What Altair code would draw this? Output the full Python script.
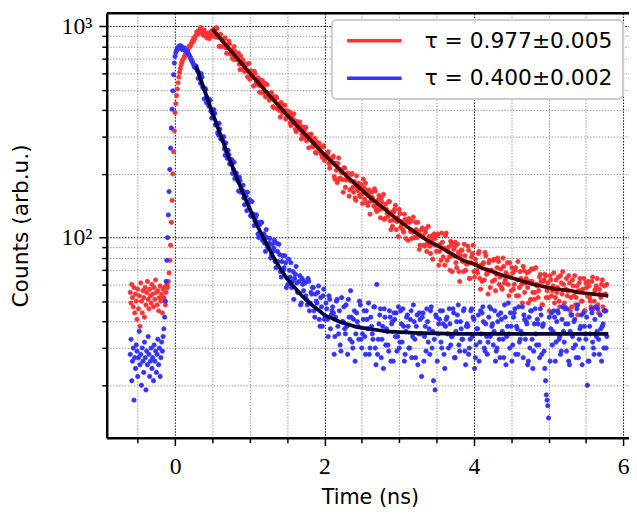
import altair as alt
import pandas as pd

# ---------------- data ----------------
time_ns = [
    -0.60, -0.59, -0.58, -0.57, -0.56, -0.55, -0.54, -0.53, -0.52, -0.51,
    -0.50, -0.49, -0.48, -0.47, -0.46, -0.45, -0.44, -0.43, -0.42, -0.41,
    -0.40, -0.39, -0.38, -0.37, -0.36, -0.35, -0.34, -0.33, -0.32, -0.31,
    -0.30, -0.29, -0.28, -0.27, -0.26, -0.25, -0.24, -0.23, -0.22, -0.21,
    -0.20, -0.19, -0.18, -0.17, -0.16, -0.15, -0.14, -0.13, -0.12, -0.11,
    -0.10, -0.09, -0.08, -0.07, -0.06, -0.05, -0.04, -0.03, -0.02, -0.01,
    0.00, 0.01, 0.02, 0.03, 0.04, 0.05, 0.06, 0.07, 0.08, 0.09, 0.10,
    0.12, 0.14, 0.16, 0.18, 0.20, 0.22, 0.24, 0.26, 0.28, 0.30,
    0.32, 0.34, 0.36, 0.38, 0.40, 0.42, 0.44, 0.46, 0.48, 0.50,
    0.52, 0.54, 0.56, 0.58, 0.60, 0.62, 0.64, 0.66, 0.68, 0.70,
    0.72, 0.74, 0.76, 0.78, 0.80, 0.82, 0.84, 0.86, 0.88, 0.90,
    0.92, 0.94, 0.96, 0.98, 1.00, 1.02, 1.04, 1.06, 1.08, 1.10,
    1.12, 1.14, 1.16, 1.18, 1.20, 1.22, 1.24, 1.26, 1.28, 1.30,
    1.32, 1.34, 1.36, 1.38, 1.40, 1.42, 1.44, 1.46, 1.48, 1.50,
    1.52, 1.54, 1.56, 1.58, 1.60, 1.62, 1.64, 1.66, 1.68, 1.70,
    1.72, 1.74, 1.76, 1.78, 1.80, 1.82, 1.84, 1.86, 1.88, 1.90,
    1.92, 1.94, 1.96, 1.98, 2.00, 2.02, 2.04, 2.06, 2.08, 2.10,
    2.12, 2.14, 2.16, 2.18, 2.20, 2.22, 2.24, 2.26, 2.28, 2.30,
    2.32, 2.34, 2.36, 2.38, 2.40, 2.42, 2.44, 2.46, 2.48, 2.50,
    2.52, 2.54, 2.56, 2.58, 2.60, 2.62, 2.64, 2.66, 2.68, 2.70,
    2.72, 2.74, 2.76, 2.78, 2.80, 2.82, 2.84, 2.86, 2.88, 2.90,
    2.92, 2.94, 2.96, 2.98, 3.00, 3.02, 3.04, 3.06, 3.08, 3.10,
    3.12, 3.14, 3.16, 3.18, 3.20, 3.22, 3.24, 3.26, 3.28, 3.30,
    3.32, 3.34, 3.36, 3.38, 3.40, 3.42, 3.44, 3.46, 3.48, 3.50,
    3.52, 3.54, 3.56, 3.58, 3.60, 3.62, 3.64, 3.66, 3.68, 3.70,
    3.72, 3.74, 3.76, 3.78, 3.80, 3.82, 3.84, 3.86, 3.88, 3.90,
    3.92, 3.94, 3.96, 3.98, 4.00, 4.02, 4.04, 4.06, 4.08, 4.10,
    4.12, 4.14, 4.16, 4.18, 4.20, 4.22, 4.24, 4.26, 4.28, 4.30,
    4.32, 4.34, 4.36, 4.38, 4.40, 4.42, 4.44, 4.46, 4.48, 4.50,
    4.52, 4.54, 4.56, 4.58, 4.60, 4.62, 4.64, 4.66, 4.68, 4.70,
    4.72, 4.74, 4.76, 4.78, 4.80, 4.82, 4.84, 4.86, 4.88, 4.90,
    4.92, 4.94, 4.96, 4.98, 5.00, 5.02, 5.04, 5.06, 5.08, 5.10,
    5.12, 5.14, 5.16, 5.18, 5.20, 5.22, 5.24, 5.26, 5.28, 5.30,
    5.32, 5.34, 5.36, 5.38, 5.40, 5.42, 5.44, 5.46, 5.48, 5.50,
    5.52, 5.54, 5.56, 5.58, 5.60, 5.62, 5.64, 5.66, 5.68, 5.70,
    5.72, 5.74, 5.76, 5.78,
]

red_counts = [
    55, 49, 60, 52, 47, 58, 44, 54, 50, 41,
    57, 46, 53, 38, 61, 50, 44, 56, 52, 42,
    58, 48, 55, 62, 51, 46, 57, 53, 49, 60,
    54, 47, 58, 51, 63, 55, 48, 56, 45, 52,
    59, 50, 54, 44, 57,
    52, 58, 48, 55, 60, 58, 62, 68, 78, 92, 118, 150, 200, 255, 320, 390,
    430, 470, 505, 540, 575, 605, 630, 655, 675, 690,
    710, 740, 765, 790, 800, 830, 845, 870, 905, 925,
    950, 985, 940, 905, 930, 890, 915, 875, 900, 935,
    969, 889, 976, 887, 913, 802, 852, 876, 791, 795,
    851, 738, 773, 697, 762, 700, 708, 662, 723, 625,
    668, 622, 663, 613, 561, 615, 572, 612, 531, 558,
    525, 557, 484, 514, 538, 472, 481, 447, 482, 466,
    412, 455, 457, 418, 399, 436, 389, 401, 364, 398,
    377, 349, 386, 348, 358, 317, 354, 328, 337, 308,
    333, 302, 287, 307, 295, 309, 271, 283, 253, 282,
    263, 269, 248, 268, 232, 246, 249, 224, 237, 225,
    243, 189, 208, 224, 190, 209, 188, 214, 173, 191,
    190, 168, 199, 173, 184, 150, 171, 181, 156, 160,
    189, 152, 167, 142, 168, 149, 155, 141, 166, 133,
    151, 136, 154, 138, 122, 144, 130, 148, 120, 132,
    121, 136, 109, 124, 136, 112, 117, 106, 122, 118,
    97, 118, 120, 106, 100, 118, 100, 106, 92, 109,
    102, 91, 110, 94, 101, 84, 102, 93, 99, 86,
    104, 86, 78, 95, 89, 102, 78, 90, 70, 93,
    82, 90, 76, 93, 69, 82, 87, 69, 82, 75,
    91, 64, 76, 84, 69, 79, 70, 84, 64, 74,
    75, 63, 82, 68, 76, 58, 70, 78, 63, 67,
    80, 60, 71, 57, 73, 63, 67, 60, 76, 56,
    68, 60, 72, 63, 53, 69, 60, 73, 55, 64,
    58, 69, 51, 62, 71, 55, 60, 52, 65, 62,
    48, 63, 66, 56, 52, 66, 53, 59, 49, 63,
    58, 50, 66, 54, 60, 47, 64, 56, 61, 52,
    63, 53, 48, 59, 56, 64, 50, 57, 45, 61,
    53, 59, 50, 62, 46, 56, 59, 48, 57, 52,
    63, 45, 54, 60,
]

blue_counts = [
    28, 33, 21, 26, 30, 17, 27, 24, 31, 29,
    22, 27, 36, 25, 28, 20, 30, 26, 23, 32,
    27, 19, 29, 25, 34, 28, 22, 26, 30, 24,
    27, 21, 31, 26, 29, 23, 28, 33, 25, 30,
    22, 27, 32, 29, 34,
    37, 42, 50, 62, 78, 100, 128, 165, 210, 265, 330, 405, 495, 590, 670, 720,
    750, 770, 790, 780, 805, 795, 810, 790, 800, 775,
    790, 770, 755, 740, 715, 690, 668, 640, 648, 615,
    602, 537, 574, 508, 508, 434, 450, 450, 396, 388,
    403, 341, 348, 306, 326, 293, 288, 263, 280, 237,
    247, 224, 233, 211, 190, 202, 185, 193, 164, 168,
    154, 164, 134, 144, 151, 126, 127, 114, 125, 118,
    100, 118, 118, 102, 94, 109, 90, 94, 80, 93,
    89, 77, 94, 77, 83, 65, 82, 72, 76, 64,
    79, 65, 58, 69, 64, 73, 55, 62, 48, 64,
    56, 61, 51, 64, 45, 55, 58, 45, 54, 49,
    59, 38, 47, 53, 41, 49, 41, 53, 37, 45,
    44, 34, 50, 38, 45, 29, 40, 47, 35, 38,
    51, 33, 42, 30, 45, 35, 40, 33, 48, 30,
    41, 34, 45, 37, 28, 42, 35, 47, 30, 60,
    33, 43, 27, 38, 46, 31, 36, 29, 42, 39,
    26, 41, 44, 34, 30, 45, 32, 38, 28, 42,
    38, 30, 45, 34, 40, 27, 43, 35, 41, 22,
    44, 34, 29, 40, 37, 45, 30, 21, 19, 42,
    35, 41, 32, 45, 28, 38, 42, 30, 39, 34,
    46, 27, 36, 43, 31, 40, 33, 45, 29, 38,
    38, 30, 45, 34, 41, 27, 37, 43, 32, 35,
    47, 30, 39, 28, 42, 34, 38, 31, 45, 29,
    40, 33, 44, 36, 27, 42, 34, 49, 30, 38,
    31, 44, 28, 37, 47, 33, 35, 27, 41, 40,
    25, 42, 45, 33, 29, 46, 31, 39, 27, 43,
    38, 29, 21, 17, 14, 26, 44, 36, 42, 32,
    45, 33, 28, 41, 36, 46, 29, 39, 25, 43,
    34, 40, 31, 46, 27, 37, 43, 30, 38, 33,
    20, 26, 35, 44, 30, 41, 34, 46, 28, 37,
    38, 30, 45, 34,
]

# second set of samples, between the ones above
time_ns_b = [
    0.13, 0.15, 0.17, 0.19, 0.21, 0.23, 0.25, 0.27, 0.29,
    0.31, 0.33, 0.35, 0.37, 0.39, 0.41, 0.43, 0.45, 0.47, 0.49,
    0.51, 0.53, 0.55, 0.57, 0.59, 0.61, 0.63, 0.65, 0.67, 0.69,
    0.71, 0.73, 0.75, 0.77, 0.79, 0.81, 0.83, 0.85, 0.87, 0.89,
    0.91, 0.93, 0.95, 0.97, 0.99, 1.01, 1.03, 1.05, 1.07, 1.09,
    1.11, 1.13, 1.15, 1.17, 1.19, 1.21, 1.23, 1.25, 1.27, 1.29,
    1.31, 1.33, 1.35, 1.37, 1.39, 1.41, 1.43, 1.45, 1.47, 1.49,
    1.51, 1.53, 1.55, 1.57, 1.59, 1.61, 1.63, 1.65, 1.67, 1.69,
    1.71, 1.73, 1.75, 1.77, 1.79, 1.81, 1.83, 1.85, 1.87, 1.89,
    1.91, 1.93, 1.95, 1.97, 1.99, 2.01, 2.03, 2.05, 2.07, 2.09,
    2.11, 2.13, 2.15, 2.17, 2.19, 2.21, 2.23, 2.25, 2.27, 2.29,
    2.31, 2.33, 2.35, 2.37, 2.39, 2.41, 2.43, 2.45, 2.47, 2.49,
    2.51, 2.53, 2.55, 2.57, 2.59, 2.61, 2.63, 2.65, 2.67, 2.69,
    2.71, 2.73, 2.75, 2.77, 2.79, 2.81, 2.83, 2.85, 2.87, 2.89,
    2.91, 2.93, 2.95, 2.97, 2.99, 3.01, 3.03, 3.05, 3.07, 3.09,
    3.11, 3.13, 3.15, 3.17, 3.19, 3.21, 3.23, 3.25, 3.27, 3.29,
    3.31, 3.33, 3.35, 3.37, 3.39, 3.41, 3.43, 3.45, 3.47, 3.49,
    3.51, 3.53, 3.55, 3.57, 3.59, 3.61, 3.63, 3.65, 3.67, 3.69,
    3.71, 3.73, 3.75, 3.77, 3.79, 3.81, 3.83, 3.85, 3.87, 3.89,
    3.91, 3.93, 3.95, 3.97, 3.99, 4.01, 4.03, 4.05, 4.07, 4.09,
    4.11, 4.13, 4.15, 4.17, 4.19, 4.21, 4.23, 4.25, 4.27, 4.29,
    4.31, 4.33, 4.35, 4.37, 4.39, 4.41, 4.43, 4.45, 4.47, 4.49,
    4.51, 4.53, 4.55, 4.57, 4.59, 4.61, 4.63, 4.65, 4.67, 4.69,
    4.71, 4.73, 4.75, 4.77, 4.79, 4.81, 4.83, 4.85, 4.87, 4.89,
    4.91, 4.93, 4.95, 4.97, 4.99, 5.01, 5.03, 5.05, 5.07, 5.09,
    5.11, 5.13, 5.15, 5.17, 5.19, 5.21, 5.23, 5.25, 5.27, 5.29,
    5.31, 5.33, 5.35, 5.37, 5.39, 5.41, 5.43, 5.45, 5.47, 5.49,
    5.51, 5.53, 5.55, 5.57, 5.59, 5.61, 5.63, 5.65, 5.67, 5.69,
    5.71, 5.73, 5.75, 5.77,
]

red_counts_b = [
    725, 760, 770, 805, 815, 850, 880, 890, 940,
    920, 965, 955, 920, 960, 905, 880, 930, 895, 950,
    900, 969, 985, 888, 803, 915, 861, 804, 881, 745,
    820, 826, 751, 706, 801, 695, 721, 746, 623, 667,
    692, 611, 657, 576, 666, 578, 592, 521, 598, 549,
    570, 488, 530, 553, 486, 463, 529, 476, 458, 485,
    416, 455, 465, 406, 429, 372, 422, 395, 423, 368,
    372, 393, 339, 369, 385, 326, 341, 324, 352, 293,
    296, 320, 332, 294, 266, 304, 287, 269, 295, 251,
    276, 280, 254, 240, 272, 236, 246, 255, 213, 229,
    238, 195, 225, 182, 238, 191, 203, 164, 213, 187,
    202, 157, 185, 201, 164, 154, 196, 167, 159, 178,
    145, 172, 181, 146, 163, 129, 164, 149, 170, 136,
    142, 158, 124, 147, 160, 123, 136, 126, 148, 109,
    113, 132, 142, 119, 101, 130, 119, 109, 129, 99,
    120, 123, 107, 99, 125, 100, 109, 118, 88, 102,
    111, 92, 106, 86, 113, 91, 97, 79, 104, 92,
    102, 74, 93, 105, 81, 74, 105, 86, 81, 96,
    69, 88, 95, 72, 85, 62, 87, 77, 93, 70,
    75, 87, 64, 81, 92, 65, 75, 68, 86, 57,
    62, 76, 85, 67, 54, 78, 70, 62, 79, 56,
    72, 77, 65, 58, 80, 61, 68, 76, 53, 65,
    72, 57, 70, 53, 77, 58, 64, 49, 70, 61,
    68, 49, 62, 71, 55, 51, 72, 59, 56, 67,
    48, 62, 67, 52, 61, 45, 63, 56, 68, 52,
    55, 65, 47, 61, 69, 49, 57, 53, 66, 45,
    47, 59, 66, 52, 43, 61, 56, 50, 64, 45,
    58, 62, 52, 47, 65, 50, 57, 64, 44, 54,
    60, 47, 59, 45,
]

blue_counts_b = [
    785, 765, 748, 730, 705, 682, 655, 650, 628,
    567, 593, 597, 515, 453, 502, 460, 419, 446, 368,
    394, 387, 343, 313, 347, 293, 297, 300, 245, 255,
    259, 223, 234, 201, 227, 192, 193, 166, 186, 167,
    177, 143, 157, 164, 137, 127, 148, 129, 120, 128,
    104, 115, 118, 97, 104, 86, 100, 91, 99, 82,
    86, 97, 72, 86, 93, 69, 77, 70, 82, 58,
    60, 70, 76, 62, 51, 67, 61, 55, 66, 49,
    60, 62, 53, 48, 62, 49, 54, 58, 42, 50,
    55, 41, 52, 38, 57, 42, 46, 34, 51, 43,
    47, 28, 42, 51, 35, 31, 52, 40, 37, 48,
    28, 42, 56, 32, 41, 26, 44, 38, 50, 33,
    35, 45, 28, 41, 49, 30, 38, 33, 47, 25,
    28, 39, 46, 33, 24, 42, 37, 31, 45, 26,
    40, 44, 34, 29, 47, 32, 39, 46, 26, 36,
    43, 30, 41, 27, 48, 33, 38, 25, 44, 35,
    42, 26, 38, 46, 32, 28, 47, 36, 33, 43,
    26, 39, 45, 30, 39, 24, 41, 35, 46, 31,
    34, 44, 27, 40, 48, 29, 37, 33, 46, 25,
    39, 28, 33, 46, 42, 24, 31, 37, 26, 45,
    44, 40, 29, 34, 32, 47, 46, 39, 36, 26,
    30, 43, 27, 41, 33, 48, 25, 38, 35, 44,
    26, 42, 46, 38, 28, 32, 36, 47, 43, 33,
    39, 26, 30, 45, 24, 39, 35, 41, 31, 46,
    28, 39, 24, 18, 16, 42, 37, 31, 45, 26,
    40, 44, 34, 29, 47, 32, 39, 46, 26, 36,
    43, 30, 41, 27, 48, 33, 38, 25, 44, 35,
    42, 26, 38, 46, 32, 28, 47, 36, 33, 43,
    26, 39, 45, 30,
]

red_fit_t = [
    0.5, 0.6, 0.7, 0.8, 0.9, 1.0, 1.1, 1.2, 1.3, 1.4,
    1.5, 1.6, 1.7, 1.8, 1.9, 2.0, 2.1, 2.2, 2.3, 2.4,
    2.5, 2.6, 2.7, 2.8, 2.9, 3.0, 3.1, 3.2, 3.3, 3.4,
    3.5, 3.6, 3.7, 3.8, 3.9, 4.0, 4.1, 4.2, 4.3, 4.4,
    4.5, 4.6, 4.7, 4.8, 4.9, 5.0, 5.1, 5.2, 5.3, 5.4,
    5.5, 5.6, 5.7, 5.8,
]
red_fit_counts = [
    970, 881, 800, 727, 661, 601, 548, 499, 455, 416,
    380, 348, 319, 293, 269, 247, 228, 211, 195, 181,
    168, 156, 146, 137, 128, 120, 113, 107, 101, 96,
    92, 88, 84, 80, 77, 75, 72, 70, 68, 66,
    64.5, 63, 61.5, 60, 59, 58, 57, 56.5, 56, 55,
    54.5, 54, 53.5, 53,
]
blue_fit_t = [0.28, 0.3, 0.4, 0.5, 0.6, 0.7, 0.8, 0.9, 1.0, 1.1, 1.2, 1.3, 1.4,
              1.5, 1.6, 1.7, 1.8, 1.9, 2.0, 2.1, 2.2, 2.3, 2.4, 2.5, 2.6, 2.8,
              3.0, 3.5, 4.0, 5.0, 5.8]
blue_fit_counts = [650, 620, 490, 390, 311, 250, 203, 165, 137, 114, 97, 83, 72,
                   64, 58, 53, 49, 46, 43, 41.5, 40, 39, 38, 37.4, 37, 36.1,
                   35.7, 35.2, 35, 35, 35]

series_labels = ["τ = 0.977±0.005", "τ = 0.400±0.002"]
series_colors = ["#ff3333", "#3333ff"]
fit_colors = ["#4a0000", "#00003d"]

x_ticks = [-0.5, 0, 0.5, 1, 1.5, 2, 2.5, 3, 3.5, 4, 4.5, 5, 5.5, 6]
y_ticks = [20, 30, 40, 50, 60, 70, 80, 90, 100,
           200, 300, 400, 500, 600, 700, 800, 900, 1000]

# ---------------- tables ----------------
n, nb = len(time_ns), len(time_ns_b)
points_df = pd.DataFrame({
    "t": time_ns + time_ns_b + time_ns + time_ns_b,
    "counts": red_counts + red_counts_b + blue_counts + blue_counts_b,
    "series": [series_labels[0]] * (n + nb) + [series_labels[1]] * (n + nb),
})
red_fit_df = pd.DataFrame({"t": red_fit_t, "counts": red_fit_counts})
blue_fit_df = pd.DataFrame({"t": blue_fit_t, "counts": blue_fit_counts})

W, H = 529, 430
x_major = "datum.value % 2 == 0"
y_major = "datum.value == 100 || datum.value == 1000"

x_axis = alt.Axis(
    values=x_ticks,
    labelExpr=f"{x_major} ? format(datum.value, 'd') : ''",
    labelFont="Liberation Serif", labelFontSize=24, labelColor="black",
    labelPadding=9, labelOverlap=False, labelFlush=False,
    tickColor="black", tickWidth=1.5,
    tickSize={"condition": {"test": x_major, "value": 8}, "value": 5},
    domainColor="black", domainWidth=2.5,
    grid=True,
    gridColor={"condition": {"test": x_major, "value": "#000000"}, "value": "#9a9a9a"},
    gridDash=[1.5, 1.5], gridWidth=1,
    titleFont="DejaVu Sans", titleFontSize=21, titleFontWeight="normal",
    titleColor="black", titleX=W / 2 + 2, titleY=67,
    titleAlign="center", titleBaseline="alphabetic",
)
y_axis = alt.Axis(
    values=y_ticks,
    labelExpr="datum.value == 100 ? '10²' : datum.value == 1000 ? '10³' : ''",
    labelFont="Liberation Serif", labelFontSize=24, labelColor="black",
    labelPadding=7, labelOverlap=False, labelFlush=False, labelBaseline="middle",
    tickColor="black", tickWidth=1.5,
    tickSize={"condition": {"test": y_major, "value": 8}, "value": 5},
    domainColor="black", domainWidth=2.5,
    grid=True,
    gridColor={"condition": {"test": y_major, "value": "#000000"}, "value": "#9a9a9a"},
    gridDash=[1.5, 1.5], gridWidth=1,
    titleFont="DejaVu Sans", titleFontSize=22, titleFontWeight="normal",
    titleColor="black", titleX=-87, titleY=H / 2, titleAngle=270,
    titleAlign="center", titleBaseline="middle",
)

x_enc = alt.X("t:Q", title="Time (ns)",
              scale=alt.Scale(domain=[-0.915, 6.077], nice=False, zero=False),
              axis=x_axis)
y_enc = alt.Y("counts:Q", title="Counts (arb.u.)",
              scale=alt.Scale(type="log", domain=[11.29, 1153.6], nice=False),
              axis=y_axis)

color_scale = alt.Scale(domain=series_labels, range=series_colors)
legend = alt.Legend(
    title=None, orient="none", legendX=228, legendY=7,
    symbolType="M-1,0H9", symbolSize=122, symbolStrokeWidth=3.5,
    labelFont="DejaVu Sans", labelFontSize=22, labelColor="black",
    labelOffset=62, labelLimit=400,
    padding=10, rowPadding=16,
    fillColor="white", strokeColor="#cccccc", cornerRadius=5,
)

points = alt.Chart(points_df).mark_point(
    filled=True, size=19, strokeWidth=0.8, opacity=1, clip=True
).encode(
    x=x_enc, y=y_enc,
    fill=alt.Fill("series:N", scale=color_scale, legend=legend),
    stroke=alt.Stroke("series:N", scale=color_scale, legend=legend),
)

red_line = alt.Chart(red_fit_df).mark_line(
    color=fit_colors[0], strokeWidth=3.8, interpolate="monotone", clip=True
).encode(x=x_enc, y=y_enc)

blue_line = alt.Chart(blue_fit_df).mark_line(
    color=fit_colors[1], strokeWidth=3.8, interpolate="monotone", clip=True
).encode(x=x_enc, y=y_enc)

top_spine = alt.Chart(alt.Data(values=[{"k": 0}])).mark_rule(
    color="black", strokeWidth=2.5
).encode(x=alt.value(0), x2=alt.value(W), y=alt.value(0))

chart = alt.layer(points, red_line, blue_line, top_spine).properties(
    width=W, height=H,
    autosize=alt.AutoSizeParams(type="none"),
    padding={"left": 100, "top": 2, "right": 0, "bottom": 70},
).configure_view(stroke=None).configure_legend(strokeWidth=2)

chart.save("out.html", embed_options={"renderer": "svg", "actions": False})
